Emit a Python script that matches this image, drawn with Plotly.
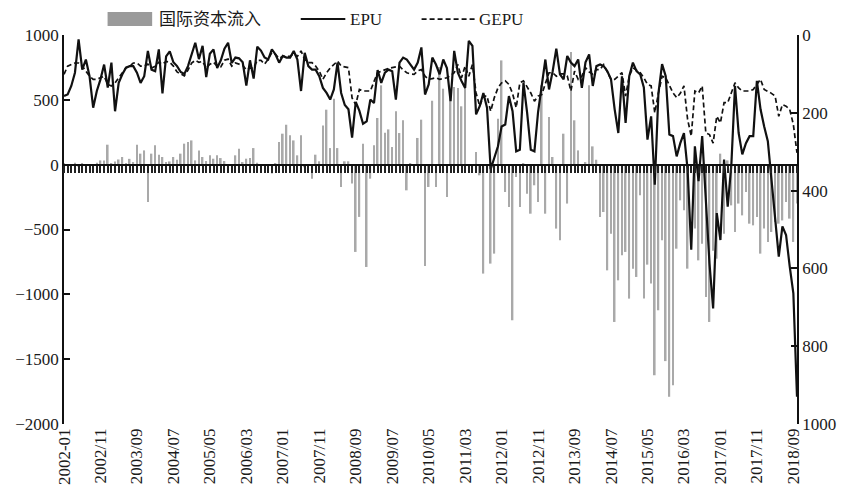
import pandas as pd
import plotly.graph_objects as go

# Monthly observations, 2002-01 .. 2018-10
months = pd.period_range("2002-01", "2018-10", freq="M").strftime("%Y-%m").tolist()

# International capital inflow (left axis)
capital_inflow = [
    10, -10, 5, 15, -15, 10, -10, 5, -5, 15,
    33, 33, 154, 10, 25, 40, 59, 10, 45, 20,
    154, 85, 110, -288, 85, 149, 77, 59, 20, 25,
    59, 38, 85, 162, 175, 187, 33, 110, 59, 28,
    72, 46, 72, 51, 28, 5, -10, 72, 123, 20,
    46, 51, 128, 15, -10, 5, -15, -69, 10, 175,
    239, 308, 226, 187, 72, 226, -20, 0, -108, 77,
    26, 303, 424, 128, 509, 128, -172, 26, 26, -146,
    -673, -403, 162, -789, -108, 149, 360, 612, 247, 272,
    136, 411, 244, 342, -198, 10, 5, 206, 347, -781,
    -172, 493, -172, 753, 586, -249, 535, 599, 591, 450,
    700, -5, 0, 98, -82, -840, -18, -763, -686, 355,
    804, -211, -326, -1200, -95, -326, 10, -224, -378, -159,
    -288, 612, -378, 368, 59, -493, -583, 239, -300, 869,
    342, 110, 0, 20, 612, 141, 38, -403, -365, -815,
    -532, -1213, -892, -699, -673, -1033, -802, -866, -236, -1033,
    -771, -917, -1624, -1123, -583, -1515, -1790, -1701, -648, -275,
    -352, -802, -44, -493, -738, -609, -1020, -1213, -663, -725,
    85, -532, 33, -314, -519, -300, -391, -211, -455, -468,
    -404, -686, -493, -596, -519, -442, -455, -430, -288, -416,
    -596, -300,
]

# Economic policy uncertainty index (right axis, reversed)
epu = [
    157, 153, 131, 97, 11, 89, 63, 106, 187, 144,
    114, 76, 135, 71, 196, 123, 101, 84, 80, 80,
    97, 123, 106, 41, 89, 93, 37, 150, 55, 42,
    70, 80, 95, 100, 80, 48, 20, 62, 28, 108,
    48, 37, 85, 65, 35, 20, 72, 58, 60, 70,
    130, 65, 112, 30, 40, 58, 63, 37, 50, 71,
    54, 58, 58, 41, 63, 144, 46, 80, 89, 89,
    106, 136, 149, 166, 140, 71, 149, 180, 191, 264,
    172, 195, 228, 222, 166, 175, 90, 123, 97, 89,
    93, 166, 71, 58, 63, 76, 89, 71, 32, 153,
    127, 58, 76, 101, 63, 85, 170, 41, 97, 118,
    136, 15, 28, 204, 183, 149, 187, 345, 316, 286,
    235, 230, 157, 196, 299, 295, 123, 200, 295, 299,
    198, 123, 63, 140, 93, 35, 101, 114, 54, 71,
    80, 63, 136, 70, 50, 131, 80, 76, 80, 93,
    114, 191, 252, 106, 226, 106, 71, 93, 101, 135,
    269, 209, 385, 150, 75, 106, 256, 260, 312, 278,
    252, 346, 552, 286, 376, 260, 415, 587, 703, 458,
    527, 320, 441, 333, 131, 252, 307, 278, 260, 260,
    118, 191, 235, 273, 372, 466, 570, 492, 514, 595,
    664, 930,
]

# Global economic policy uncertainty index (right axis, reversed)
gepu = [
    101, 80, 76, 72, 72, 80, 93, 106, 114, 114,
    110, 106, 127, 131, 123, 110, 97, 84, 80, 72,
    72, 80, 80, 75, 85, 80, 70, 75, 68, 70,
    80, 95, 100, 105, 90, 72, 65, 70, 68, 85,
    75, 70, 80, 82, 65, 62, 80, 72, 75, 78,
    90, 85, 85, 65, 65, 75, 62, 45, 50, 60,
    55, 55, 55, 48, 55, 41, 63, 71, 71, 80,
    93, 114, 97, 85, 75, 67, 80, 82, 84, 162,
    179, 140, 144, 144, 144, 120, 97, 93, 89, 86,
    84, 82, 80, 90, 97, 100, 101, 92, 89, 106,
    114, 112, 110, 114, 112, 110, 104, 97, 76, 110,
    80, 106, 76, 149, 183, 157, 157, 196, 161, 136,
    123, 118, 127, 150, 187, 123, 118, 135, 149, 170,
    157, 153, 123, 97, 97, 106, 100, 100, 105, 144,
    93, 114, 106, 84, 95, 101, 89, 89, 76, 97,
    114, 114, 105, 97, 157, 106, 84, 90, 97, 110,
    127, 131, 200, 150, 106, 110, 130, 149, 161, 150,
    131, 217, 260, 144, 149, 131, 252, 256, 278, 209,
    226, 174, 174, 150, 123, 136, 144, 144, 144, 140,
    127, 114, 140, 144, 150, 157, 209, 179, 183, 191,
    230, 303,
]

tick_labels = [
    "2002-01", "2002/11", "2003/09", "2004/07", "2005/05", "2006/03",
    "2007/01", "2007/11", "2008/09", "2009/07", "2010/05", "2011/03",
    "2012/01", "2012/11", "2013/09", "2014/07", "2015/05", "2016/03",
    "2017/01", "2017/11", "2018/09",
]

x = list(range(len(months)))
tick_pos = [months.index(t.replace("/", "-")) for t in tick_labels]

left_range = [-2000, 1000]
right_range = [1000, 0]

SERIF = "Liberation Serif, Times New Roman, Noto Sans CJK SC, serif"
W, H = 848, 497
ML, MR, MT, MB = 64, 44, 35, 72

fig = go.Figure()

fig.add_trace(go.Bar(
    x=x, y=capital_inflow, name="国际资本流入",
    marker=dict(color="#a9a9a9", line=dict(width=0)),
    width=0.45, xaxis="x", yaxis="y", showlegend=False,
))
fig.add_trace(go.Scatter(
    x=x, y=epu, name="EPU", mode="lines",
    line=dict(color="#111111", width=2.2),
    xaxis="x", yaxis="y2", showlegend=False,
))
fig.add_trace(go.Scatter(
    x=x, y=gepu, name="GEPU", mode="lines",
    line=dict(color="#111111", width=1.7, dash="5px,3px"),
    xaxis="x", yaxis="y2", showlegend=False,
))
# carrier trace for the month ruler along the zero line
fig.add_trace(go.Scatter(
    x=[x[0]], y=[0], mode="markers", marker=dict(opacity=0),
    xaxis="x2", yaxis="y", showlegend=False, hoverinfo="skip",
))

zero_pos = (0 - left_range[0]) / (left_range[1] - left_range[0])

fig.update_layout(
    width=W, height=H,
    margin=dict(l=ML, r=MR, t=MT, b=MB),
    paper_bgcolor="white", plot_bgcolor="white",
    font=dict(family=SERIF, size=17, color="#1a1a1a"),
    barmode="overlay",
    xaxis=dict(
        range=[x[0], x[-1]], tickvals=tick_pos, ticktext=tick_labels,
        tickangle=-90, showline=False, ticks="", showgrid=False, zeroline=False,
        tickfont=dict(family=SERIF, size=17),
    ),
    xaxis2=dict(
        overlaying="x", anchor="free", position=zero_pos, side="bottom",
        range=[x[0], x[-1]], tickvals=x, showticklabels=False,
        showline=True, linecolor="#111111", linewidth=2,
        ticks="outside", ticklen=7, tickwidth=1.8, tickcolor="#222222",
        showgrid=False, zeroline=False,
    ),
    yaxis=dict(
        range=left_range, tickvals=list(range(-2000, 1001, 500)),
        ticks="inside", ticklen=6, tickwidth=1.5, tickcolor="#111111",
        showline=True, linecolor="#111111", linewidth=1.6,
        showgrid=False, zeroline=False, tickfont=dict(family=SERIF, size=17),
    ),
    yaxis2=dict(
        overlaying="y", side="right", range=right_range,
        tickvals=list(range(0, 1001, 200)),
        ticks="inside", ticklen=6, tickwidth=1.5, tickcolor="#111111",
        showline=True, linecolor="#111111", linewidth=1.6,
        showgrid=False, zeroline=False, tickfont=dict(family=SERIF, size=17),
    ),
)

# hand-built legend above the plot
pw, ph = W - ML - MR, H - MT - MB
def px(v):
    return (v - ML) / pw
def py(v):
    return (H - MB - v) / ph

ly = 19
fig.add_shape(type="rect", xref="paper", yref="paper",
              x0=px(108), x1=px(153), y0=py(26), y1=py(12),
              fillcolor="#9a9a9a", line=dict(width=0))
fig.add_shape(type="line", xref="paper", yref="paper",
              x0=px(303), x1=px(348), y0=py(ly), y1=py(ly),
              line=dict(color="#111111", width=2))
fig.add_shape(type="line", xref="paper", yref="paper",
              x0=px(425), x1=px(480), y0=py(ly), y1=py(ly),
              line=dict(color="#111111", width=1.7, dash="5px,3px"))
for label, xpos in [("国际资本流入", 158), ("EPU", 351), ("GEPU", 481)]:
    fig.add_annotation(text=label, xref="paper", yref="paper",
                       x=px(xpos), y=py(ly), xanchor="left", yanchor="middle",
                       showarrow=False, font=dict(family=SERIF, size=17))

fig.write_html("out.html")
